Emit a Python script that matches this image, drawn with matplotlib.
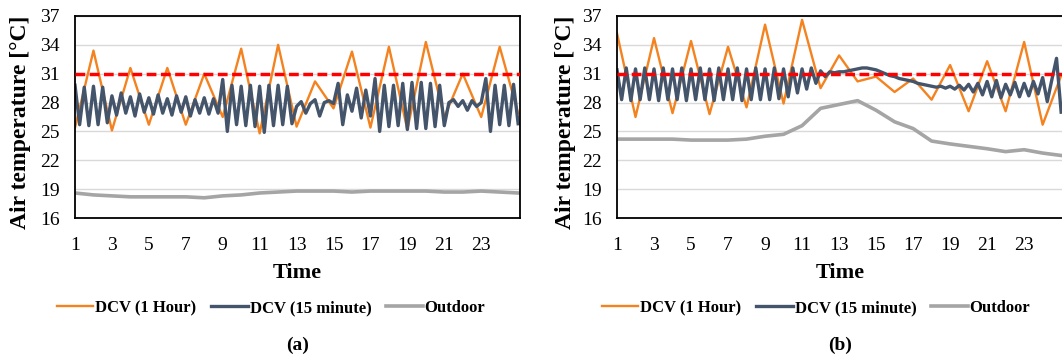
import numpy as np
import matplotlib.pyplot as plt

plt.rcParams['font.family'] = ['Liberation Serif', 'DejaVu Serif']

W, H = 1062, 356

# hourly series (1..25) and 15-minute series (97 points)
hours = np.arange(1, 26)
quarters = np.arange(97) / 4 + 1
setpoint = 31

hourly_a = [25.4, 33.4, 25.1, 31.6, 25.7, 31.6, 25.7, 31.0, 26.5, 33.6, 24.8, 34.0, 25.5,
            30.2, 27.4, 33.3, 25.4, 33.8, 25.2, 34.3, 26.5, 31.0, 26.5, 33.8, 26.9]
quarter_a = [29.8, 25.7, 29.6, 25.6, 29.7, 25.7, 29.6, 25.9,
             28.7, 26.7, 29.0, 26.9, 28.6, 26.6, 28.9, 27.0, 28.5, 26.8, 28.8, 26.9,
             28.4, 26.7, 28.7, 27.0, 28.6, 26.6, 28.3, 26.9, 28.5, 26.8, 28.4, 26.9,
             30.4, 25.0, 29.8, 25.7, 29.7, 25.6, 29.8, 25.5, 29.7, 24.9, 29.8, 25.6,
             29.8, 25.7, 29.7, 25.8,
             27.6, 28.1, 26.9, 27.9, 28.3, 26.6, 28.0, 28.2, 27.9, 30.0, 25.7,
             28.8, 27.1, 29.5, 26.4, 29.3, 26.6, 30.5, 25.0, 29.8, 25.5, 29.8, 25.6,
             30.0, 25.2, 30.1, 25.3, 30.1, 25.3, 30.0, 25.5, 29.8, 25.6,
             28.0, 28.3, 27.6, 28.2, 27.2, 28.2, 27.6, 28.0,
             30.5, 25.0, 29.8, 25.7, 29.8, 25.6, 29.9, 25.8]
outdoor_a = [18.6, 18.4, 18.3, 18.2, 18.2, 18.2, 18.2, 18.1, 18.3, 18.4, 18.6, 18.7, 18.8,
             18.8, 18.8, 18.7, 18.8, 18.8, 18.8, 18.8, 18.7, 18.7, 18.8, 18.7, 18.6]

hourly_b = [35.2, 26.5, 34.7, 26.9, 34.4, 26.8, 33.8, 27.5, 36.1, 27.9, 36.6, 29.5, 32.9,
            30.2, 30.7, 29.1, 30.5, 28.3, 31.9, 27.1, 32.3, 27.1, 34.3, 25.7, 30.8]
quarter_b = [31.4, 28.3, 31.6, 28.2, 31.5, 28.3, 31.6, 28.3, 31.5, 28.2, 31.6, 28.3,
             31.5, 28.3, 31.6, 28.2, 31.5, 28.3, 31.6, 28.3, 31.5, 28.2, 31.6, 28.3,
             31.5, 28.3, 31.6, 28.2, 31.5, 28.3, 31.6, 28.3, 31.5, 28.3, 31.6, 28.4,
             31.5, 28.6, 31.6, 29.0, 31.5, 29.4, 31.6, 30.0, 31.3, 30.7, 31.2, 31.1, 31.2,
             31.2, 31.3, 31.4, 31.5, 31.6, 31.6, 31.5, 31.4, 31.2, 31.0, 30.8, 30.7,
             30.5, 30.4, 30.3, 30.2, 30.0, 29.9, 29.8, 29.7, 29.6, 29.7, 29.5, 29.7,
             29.4, 29.8, 29.3, 29.9, 29.1, 30.0, 28.8, 30.2, 28.6, 30.3, 28.5, 29.9,
             28.8, 30.1, 28.6, 30.0, 28.7, 30.2, 28.9, 30.6, 28.1, 30.4, 32.6, 27.0]
outdoor_b = [24.2, 24.2, 24.2, 24.2, 24.1, 24.1, 24.1, 24.2, 24.5, 24.7, 25.6, 27.4, 27.8,
             28.2, 27.2, 26.0, 25.3, 24.0, 23.7, 23.45, 23.2, 22.9, 23.1, 22.75, 22.5]

series_names = ['DCV (1 Hour)', 'DCV (15 minute)', 'Outdoor']
yticks = np.arange(16, 38, 3)
xticks = np.arange(1, 24, 2)

fig = plt.figure(figsize=(W / 100, H / 100), dpi=100)


def box(left, top, right, bottom):
    return [left / W, 1 - bottom / H, (right - left) / W, (bottom - top) / H]


panels = [
    (box(75, 16, 520, 218), hourly_a, quarter_a, outdoor_a, '(a)', 21, 271),
    (box(617, 16, 1063, 218), hourly_b, quarter_b, outdoor_b, '(b)', 566, 816),
]

for rect, hourly, quarter, outdoor, tag, ylab_x, leg_x in panels:
    ax = fig.add_axes(rect)
    l1, = ax.plot(hours, hourly, color='#F4821F', lw=1.7, label=series_names[0])
    l2, = ax.plot(quarters, quarter, color='#44546A', lw=2.4, label=series_names[1])
    l3, = ax.plot(hours, outdoor, color='#A5A5A5', lw=2.6, label=series_names[2])
    ax.axhline(setpoint, color='#FF0000', lw=2.5, dashes=(2.8, 1.3), zorder=5)

    ax.set_xlim(1, 25.1)
    ax.set_ylim(16, 37)
    ax.set_xticks(xticks)
    ax.set_yticks(yticks)
    ax.tick_params(length=0, labelsize=14)
    ax.tick_params(axis='x', pad=14)
    ax.tick_params(axis='y', pad=11)
    ax.grid(axis='y', color='#D9D9D9', lw=1)
    ax.set_axisbelow(True)
    for sp in ax.spines.values():
        sp.set_color('black')
        sp.set_linewidth(1.3)

    cx = (rect[0] + rect[2] / 2)
    fig.text(cx, 1 - 273 / H, 'Time', ha='center', va='center',
             fontsize=16, fontweight='bold')
    fig.text(ylab_x / W, 1 - 122 / H, 'Air temperature [°C]', rotation=90,
             ha='center', va='center', fontsize=17, fontweight='bold')
    fig.text(cx, 1 - 345 / H, tag, ha='center', va='center',
             fontsize=14, fontweight='bold')
    fig.legend([l1, l2, l3], series_names, loc='center',
               bbox_to_anchor=(leg_x / W, 1 - 308 / H), ncol=3, frameon=False,
               prop={'weight': 'bold', 'size': 12}, handlelength=2.2,
               handletextpad=0.1, columnspacing=0.9)

fig.savefig('out.png', dpi=100)
